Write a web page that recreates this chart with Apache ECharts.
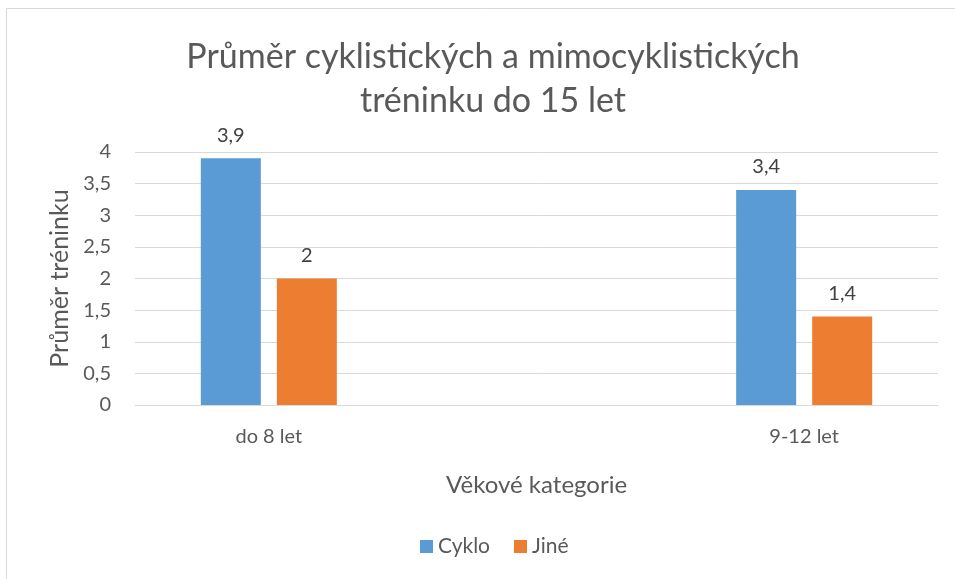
<!DOCTYPE html>
<html><head><meta charset="utf-8">
<script src="https://cdn.jsdelivr.net/npm/echarts@6/dist/echarts.min.js"></script>
<style>html,body{margin:0;padding:0;background:#fff}#c{width:955px;height:579px}</style>
</head><body><div id="c"></div>
<script>
const categories = ['do 8 let', '', '9-12 let'];
const cyklo = [3.9, null, 3.4];
const jine = [2, null, 1.4];
const yTicks = [0, 0.5, 1, 1.5, 2, 2.5, 3, 3.5, 4];

const FONT = 'Lato, "Open Sans", sans-serif';
const fmt = v => String(v).replace('.', ',');
const chart = echarts.init(document.getElementById('c'), null, {renderer: 'canvas'});
chart.setOption({
  animation: false,
  backgroundColor: '#fff',
  textStyle: {fontFamily: FONT},
  graphic: [{type: 'rect', shape: {x: 6.5, y: 8.5, width: 960, height: 600}, style: {fill: 'none', stroke: '#d9d9d9', lineWidth: 1}, silent: true}],
  title: {
    text: 'Průměr cyklistických a mimocyklistických\ntréninku do 15 let',
    left: 488, top: 30, textAlign: 'center',
    textStyle: {fontFamily: FONT, fontSize: 34, fontWeight: 'normal', color: '#595959', lineHeight: 44}
  },
  legend: {
    left: 415, top: 531, itemWidth: 13, itemHeight: 13, itemGap: 24,
    icon: 'rect',
    textStyle: {fontFamily: FONT, fontSize: 21, color: '#595959', padding: [0, 0, 0, 0]},
    data: ['Cyklo', 'Jiné']
  },
  grid: {left: 135, right: 17, top: 152, bottom: 174},
  xAxis: {
    type: 'category', data: categories,
    name: 'Věkové kategorie', nameLocation: 'middle', nameGap: 68,
    nameTextStyle: {fontFamily: FONT, fontSize: 24, color: '#595959'},
    axisLine: {lineStyle: {color: '#d9d9d9', width: 1}},
    axisTick: {show: false},
    axisLabel: {fontFamily: FONT, fontSize: 20, color: '#595959', margin: 22}
  },
  yAxis: {
    type: 'value', min: 0, max: 4, interval: 0.5,
    name: 'Průměr tréninku', nameLocation: 'middle', nameGap: 60, nameRotate: 90,
    nameTextStyle: {fontFamily: FONT, fontSize: 25, color: '#595959'},
    axisLine: {show: false}, axisTick: {show: false},
    splitLine: {lineStyle: {color: '#d9d9d9', width: 1}},
    axisLabel: {fontFamily: FONT, fontSize: 20, color: '#595959', margin: 24, formatter: v => yTicks.includes(v) ? fmt(v) : ''}
  },
  series: [
    {name: 'Cyklo', type: 'bar', data: cyklo, barWidth: 60, barGap: '26.7%',
     itemStyle: {color: '#5b9bd5'},
     label: {show: true, position: 'top', distance: 13, fontFamily: FONT, fontSize: 20, color: '#404040', formatter: p => fmt(p.value)}},
    {name: 'Jiné', type: 'bar', data: jine, barWidth: 60,
     itemStyle: {color: '#ed7d31'},
     label: {show: true, position: 'top', distance: 13, fontFamily: FONT, fontSize: 20, color: '#404040', formatter: p => fmt(p.value)}}
  ]
});
</script></body></html>
